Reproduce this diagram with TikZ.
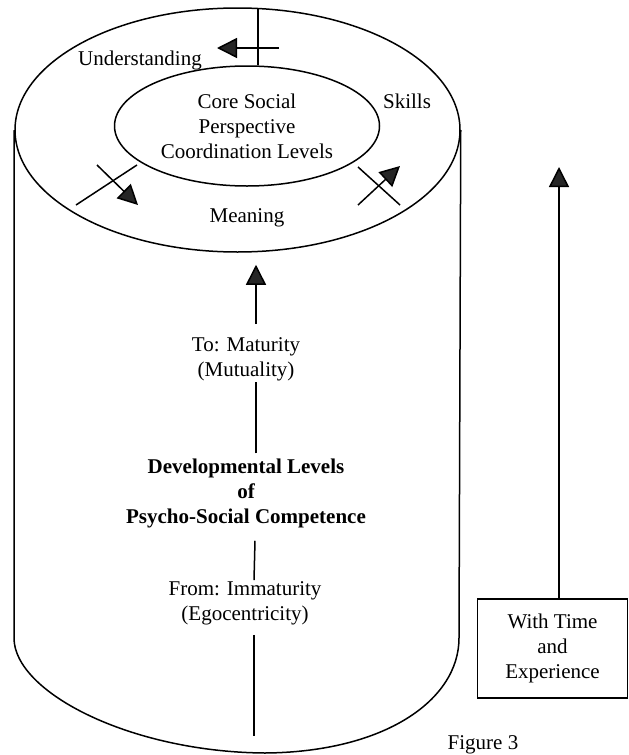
\documentclass[tikz,border=0pt]{standalone}
\usepackage{fontspec}
\setmainfont{Liberation Serif}
\usetikzlibrary{shapes,arrows.meta,positioning,calc}

\begin{document}
\begin{tikzpicture}[
            x=1pt, y=-1pt,
            every node/.style={font=\fontsize{21}{25}\selectfont, align=center, inner sep=1pt},
            ring/.style={ellipse, draw, line width=1.5pt},
            link/.style={line width=1.5pt},
            arrow/.style={-{Triangle[length=20pt,width=20pt,fill=black!85]}, line width=1.5pt},
            boldtxt/.style={font=\fontsize{21}{25}\selectfont\bfseries}
        ]
            \useasboundingbox (0,0) rectangle (629,755);

            % top of the cylinder and the core
            \node[ring, minimum width=445pt, minimum height=244pt] (top) at (237.5,130) {};
            \node[ring, minimum width=265pt, minimum height=120pt] (core) at (247,126) {Core Social\\Perspective\\Coordination Levels};

            % body of the cylinder
            \draw[link] (top.west) -- (14,638) .. controls (14,692) and (130,752) .. (265,753)
                .. controls (385,752) and (459,700) .. (459,638) -- (top.east);

            \node (und) at (140,60) {Understanding};
            \node (skl) at (407,101) {Skills};
            \node (mng) at (247,218) {Meaning};

            % ring arrows
            \coordinate (tickT) at (258,9);
            \draw[link] (tickT) -- (tickT |- core.north);
            \coordinate (uA) at (279,48);
            \coordinate (uB) at (217,48);
            \draw[arrow] (uA) -- (uB);

            \coordinate (mA) at (76,205);
            \coordinate (mB) at (137,165);
            \draw[link] (mA) -- (mB);
            \coordinate (mC) at (97,165);
            \coordinate (mD) at (138,205);
            \draw[arrow] (mC) -- (mD);

            \coordinate (sA) at (358,167);
            \coordinate (sB) at (400,205);
            \draw[link] (sA) -- (sB);
            \coordinate (sC) at (358,205);
            \coordinate (sD) at (400,166);
            \draw[arrow] (sC) -- (sD);

            % levels down the middle
            \node (mature) at (246,359) {To: Maturity\\(Mutuality)};
            \node[boldtxt] (devlev) at (246,493) {Developmental Levels\\of\\Psycho-Social Competence};
            \node (immature) at (245,603) {From: Immaturity\\(Egocentricity)};
            \coordinate (root) at (254,736);

            \draw[arrow, shorten >=12pt] ([xshift=10pt,yshift=12pt]mature.north) -- ([xshift=10pt]mature.north |- top.south);
            \draw[link] ([xshift=10pt,yshift=4pt]devlev.north) -- ([xshift=10pt]mature.south);
            \draw[link] ([xshift=9pt]immature.north) -- ([xshift=9pt,yshift=-12pt]devlev.south);
            \draw[link] ([xshift=9pt,yshift=-9pt]immature.south) -- (root);

            % time box
            \node[draw, line width=1.5pt, minimum width=150pt, minimum height=99pt] (timebox) at (552.5,648.5) {With Time\\and\\Experience};
            \coordinate (timetip) at (559,167);
            \draw[arrow] (timebox.north -| timetip) -- (timetip);

            \node[anchor=base] (figcap) at (483,749) {Figure 3};
        \end{tikzpicture}
\end{document}
